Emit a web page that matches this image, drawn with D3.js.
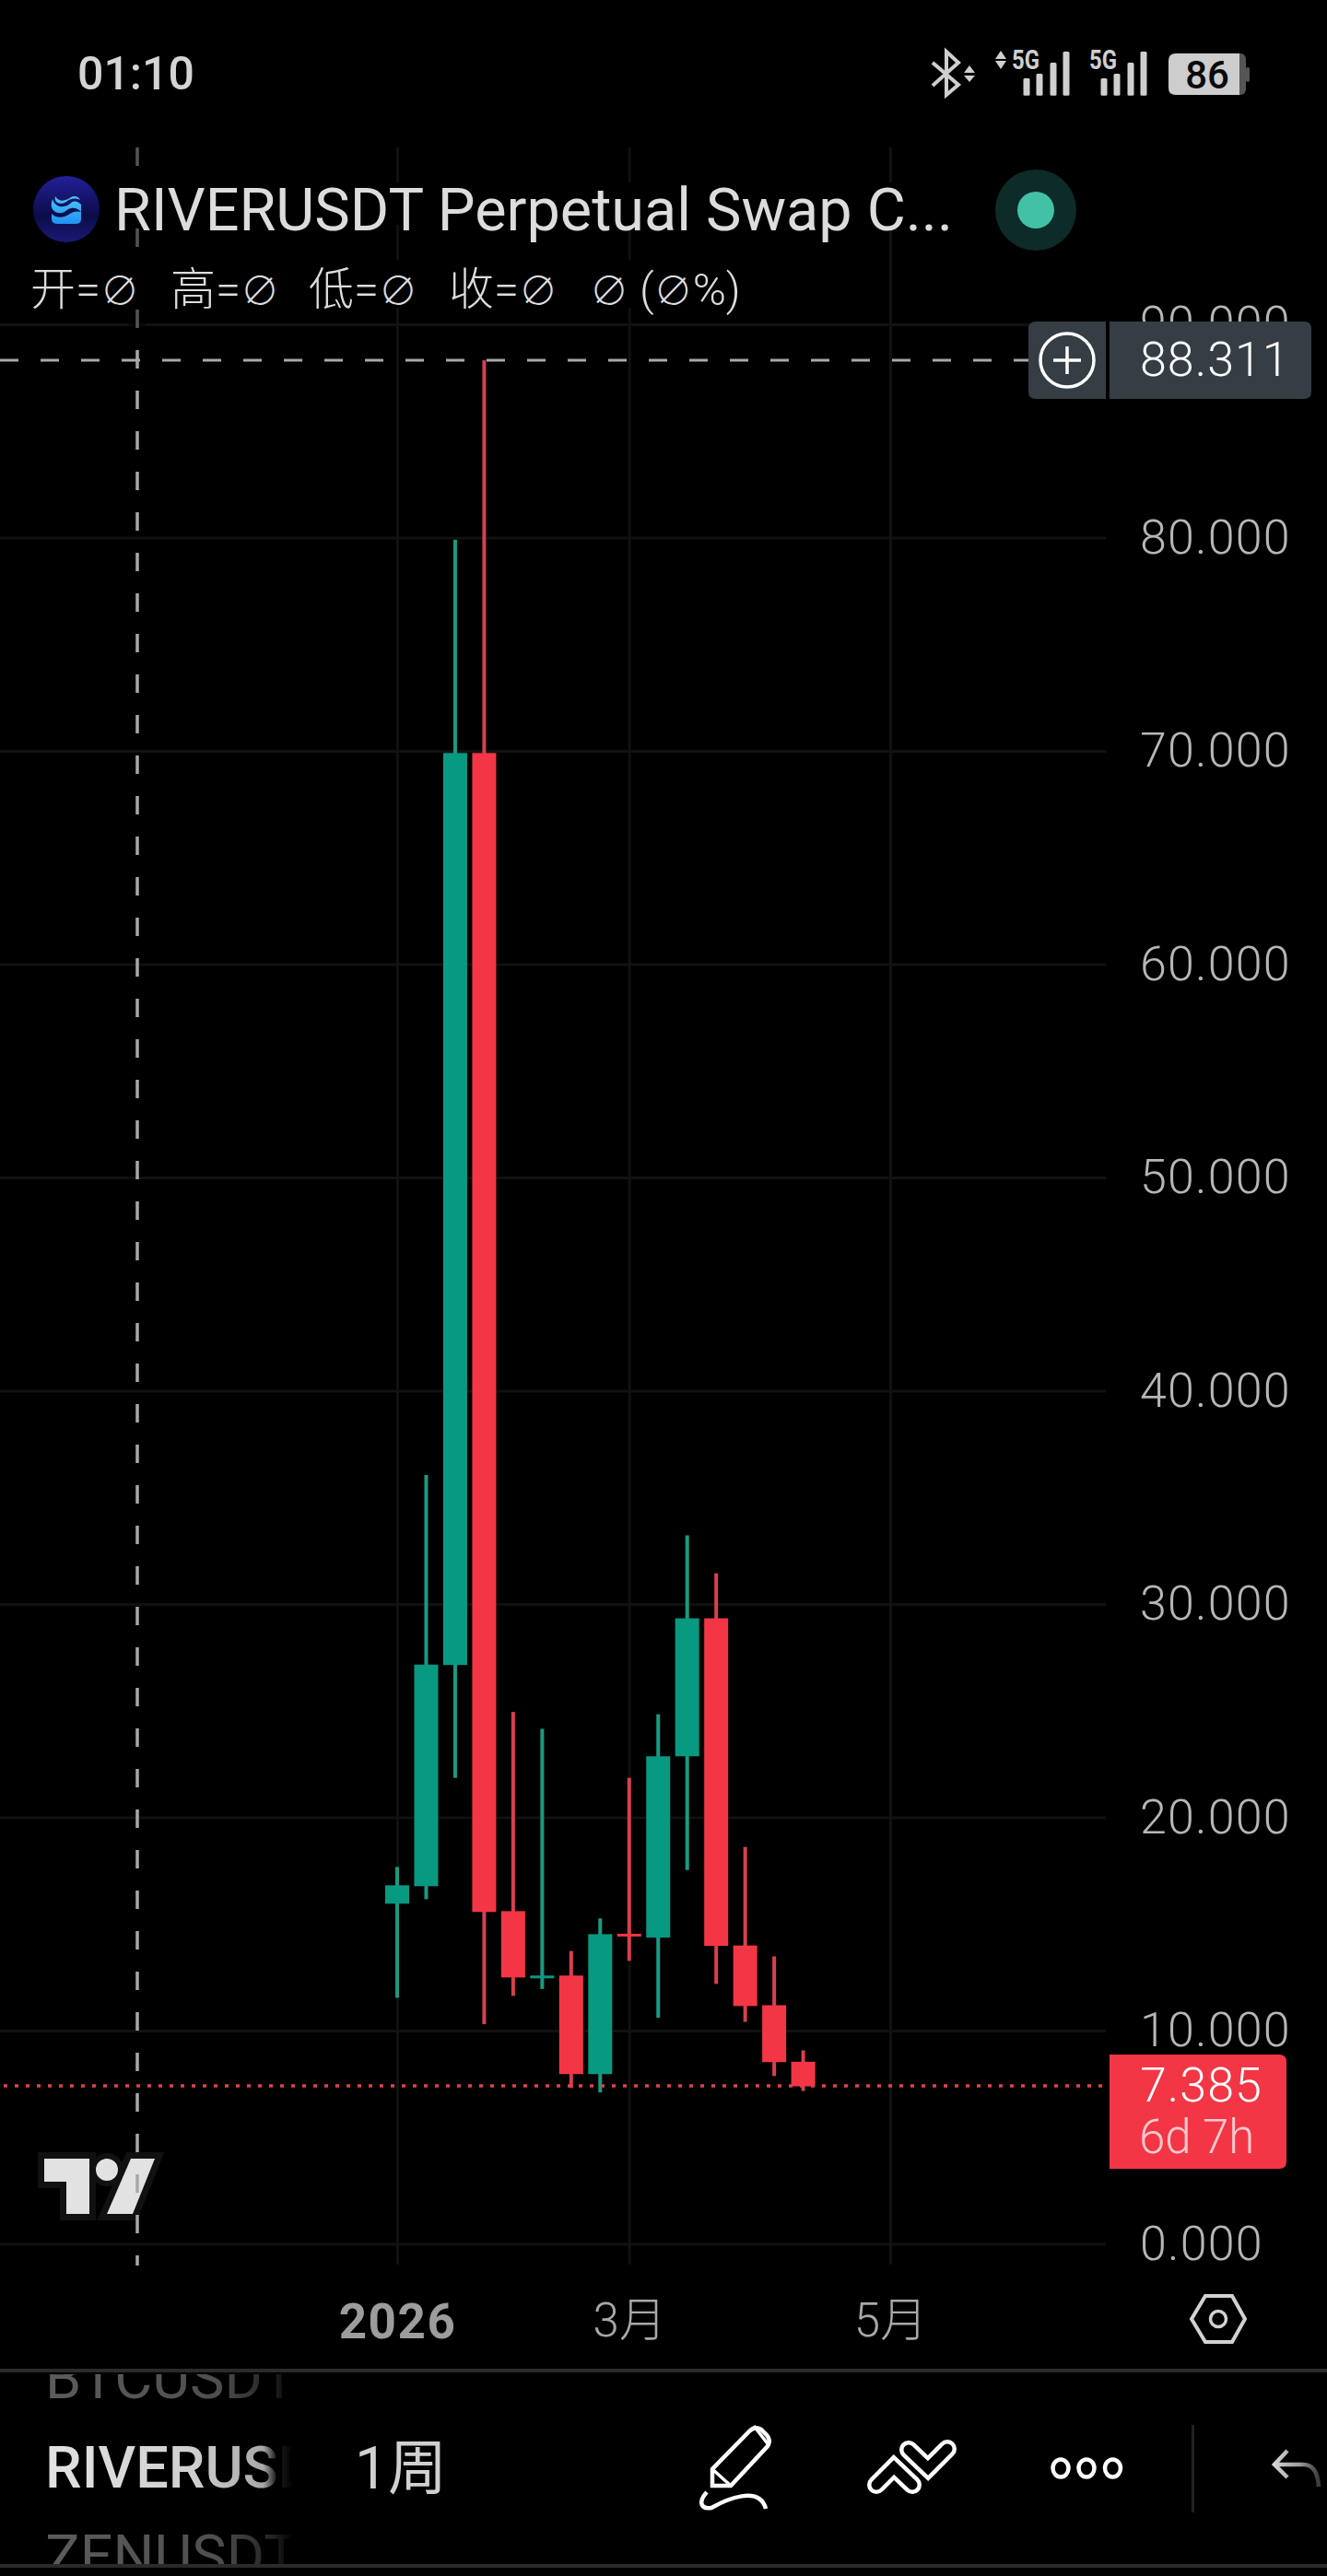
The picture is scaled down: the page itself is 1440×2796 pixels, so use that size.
<!DOCTYPE html>
<html lang="zh">
<head>
<meta charset="utf-8">
<title>RIVERUSDT</title>
<script src="https://cdn.jsdelivr.net/npm/d3@7"></script>
<style>
html,body{margin:0;padding:0;background:#000}
svg{display:block}
text{font-family:Roboto,"Noto Sans CJK SC",sans-serif}
</style>
</head>
<body>
<div id="chart"></div>
<script>
// ---- data ----
const weeks  = ["2026-01-05","2026-01-12","2026-01-19","2026-01-26","2026-02-02","2026-02-09","2026-02-16","2026-02-23","2026-03-02","2026-03-09","2026-03-16","2026-03-23","2026-03-30","2026-04-06","2026-04-13"];
const opens  = [15.95,16.77,27.14,69.90,15.60,12.46,12.58, 7.96,14.54,14.36,22.86,29.33,13.99,11.19, 8.54];
const highs  = [17.67,36.05,79.90,88.311,24.94,24.15,13.73,15.26,21.85,24.83,33.22,31.44,18.61,13.48, 9.07];
const lows   = [11.54,16.16,21.85,10.30,11.63,11.95, 7.31, 7.10,13.27,10.60,17.53,12.19,10.41, 7.87, 7.17];
const closes = [16.81,27.16,69.90,15.56,12.49,12.58, 7.96,14.52,14.46,22.86,29.33,13.97,11.15, 8.52, 7.385];
const priceTicks = [0,10,20,30,40,50,60,70,80,90];
const timeTicks  = ["2026-01-05","2026-03-02","2026-05-04"];
const timeLabels = ["2026","3月","5月"];
const crosshairPrice = 88.311;
const lastPrice = 7.385;
const countdown = "6d 7h";
const legendParts = ["开=∅","高=∅","低=∅","收=∅","∅ (∅%)"];
const symbols = ["BTCUSDT","RIVERUSDT","ZENUSDT"];

const UP="#089981", DOWN="#F23645", UPW="#1a9a80", DOWNW="#d5414f";
const W=1440,H=2796;
const parse=d3.utcParse("%Y-%m-%d");
const x=d3.scaleUtc().domain([parse("2026-01-05"),parse("2026-05-04")]).range([431,966]);
const y=d3.scaleLinear().domain([0,90]).range([2435.5,352]);
const svg=d3.select("#chart").append("svg").attr("width",W).attr("height",H).attr("viewBox",`0 0 ${W} ${H}`);
svg.append("rect").attr("width",W).attr("height",H).attr("fill","#000");
const defs=svg.append("defs");
function lin(id,x1,y1,x2,y2,stops){
  const g=defs.append("linearGradient").attr("id",id).attr("gradientUnits","userSpaceOnUse")
    .attr("x1",x1).attr("y1",y1).attr("x2",x2).attr("y2",y2);
  stops.forEach(s=>g.append("stop").attr("offset",s[0]).attr("stop-color",s[1]));
}
lin("gRiver",50,0,318,0,[[0,"#e2e2e2"],[.6,"#cfcfcf"],[.88,"#a8a8a8"],[.93,"#222"],[1,"#000"]]);
lin("gDim",50,0,318,0,[[0,"#5c5c5c"],[.7,"#4e4e4e"],[.92,"#222"],[1,"#000"]]);
lin("gUndo",1381,0,1431,0,[[0,"#d8d8d8"],[.6,"#9a9a9a"],[1,"#3a3a3a"]]);
lin("gLogo",72,191,72,263,[[0,"#22209a"],[.6,"#0b0c48"],[1,"#1a1a78"]]);
lin("gGlyph",72,212,72,244,[[0,"#4cc9f5"],[1,"#2090f4"]]);
defs.append("clipPath").attr("id","clipSym").append("rect").attr("x",0).attr("y",2577).attr("width",330).attr("height",206);

// ---- grid + axes ----
const gridCol="#111111";
const yAxis=d3.axisRight(y).tickValues(priceTicks).tickFormat(d3.format(".3f")).tickSizeInner(-1200).tickSizeOuter(0).tickPadding(37);
const gy=svg.append("g").attr("transform","translate(1200,0)").call(yAxis);
gy.select(".domain").remove();
gy.selectAll("line").attr("stroke",gridCol).attr("stroke-width",3);
gy.selectAll("text").attr("fill","#b6b6b6").attr("font-size",52).attr("font-weight",300).attr("font-family","Roboto").attr("letter-spacing",1.2);

const labelOf=new Map(timeTicks.map((d,i)=>[+parse(d),timeLabels[i]]));
const xAxis=d3.axisBottom(x).tickValues(timeTicks.map(parse)).tickFormat(d=>labelOf.get(+d)).tickSizeInner(-2298).tickSizeOuter(0).tickPadding(42);
const gx=svg.append("g").attr("transform","translate(0,2458)").call(xAxis);
gx.select(".domain").remove();
gx.selectAll("line").attr("stroke",gridCol).attr("stroke-width",3);
gx.selectAll("text").attr("font-size",51).attr("fill","#a8a8a8").attr("font-family","Roboto,'Noto Sans CJK SC'").attr("font-weight",300);
gx.selectAll("text").filter((d,i)=>i===0).attr("font-weight",700).attr("font-size",53).attr("fill","#9c9c9c").attr("letter-spacing",1.5);

// ---- tradingview mark ----
const tv=svg.append("g");
const tvPaths=["M48,2343H97V2403H72V2368H48Z","M142,2343H168L144,2403H116Z"];
tvPaths.forEach(p=>tv.append("path").attr("d",p).attr("fill","#111").attr("stroke","#111").attr("stroke-width",14).attr("stroke-linejoin","miter"));
tv.append("circle").attr("cx",116).attr("cy",2355).attr("r",18).attr("fill","#111");
tvPaths.forEach(p=>tv.append("path").attr("d",p).attr("fill","#e2e2e2"));
tv.append("circle").attr("cx",116).attr("cy",2355).attr("r",12).attr("fill","#e2e2e2");

// ---- candles ----
const bodyW=26,wickW=4;
const candles=weeks.map((w,i)=>({d:parse(w),o:opens[i],h:highs[i],l:lows[i],c:closes[i]}));
const cg=svg.append("g").selectAll("g").data(candles).join("g");
cg.append("rect").attr("x",d=>x(d.d)-wickW/2).attr("width",wickW)
  .attr("y",d=>y(d.h)).attr("height",d=>y(d.l)-y(d.h))
  .attr("fill",d=>d.c>=d.o?UPW:DOWNW);
cg.append("rect").attr("x",d=>x(d.d)-bodyW/2).attr("width",bodyW)
  .attr("y",d=>y(Math.max(d.o,d.c))).attr("height",d=>Math.max(3,Math.abs(y(d.o)-y(d.c))))
  .attr("fill",d=>d.c>=d.o?UP:DOWN);

// ---- last price line ----
svg.append("line").attr("x1",4).attr("x2",1196).attr("y1",y(lastPrice)-0.5).attr("y2",y(lastPrice)-0.5)
  .attr("stroke","#e0404e").attr("stroke-width",3.5).attr("stroke-dasharray","4 8");

// ---- crosshair ----
const crossX=149;
svg.append("line").attr("x1",crossX).attr("x2",crossX).attr("y1",160).attr("y2",2459)
  .attr("stroke","#a8a8a8").attr("stroke-width",3.5).attr("stroke-dasharray","20 24");
svg.append("line").attr("x1",0).attr("x2",1116).attr("y1",y(crosshairPrice)).attr("y2",y(crosshairPrice))
  .attr("stroke","#a8a8a8").attr("stroke-width",3).attr("stroke-dasharray","20 24");

// ---- header ----
svg.append("rect").attr("x",140).attr("y",150).attr("width",18).attr("height",212).attr("fill","#000").attr("opacity",.5);
svg.append("rect").attr("x",120).attr("y",198).attr("width",930).attr("height",46).attr("fill","#000");
svg.append("rect").attr("x",30).attr("y",282).attr("width",780).attr("height",52).attr("fill","#000");
svg.append("circle").attr("cx",72).attr("cy",227).attr("r",36).attr("fill","url(#gLogo)");
svg.append("path").attr("fill","url(#gGlyph)")
  .attr("d","M56,232 C62,238 70,236 76,232 C80,229 84,229 88,230 V238 Q88,243 82,243 H63 Q56,243 56,238 Z");
svg.append("path").attr("fill","url(#gGlyph)")
  .attr("d","M57,216 C60,226 70,226 76,221 C80,217 84,218 88,222 V230 C82,224 76,225 70,230 C62,234 54,228 56,220 Z M60,213 C64,220 72,218 77,214 C81,212 85,213 87,217 C80,214 76,216 72,219 C67,223 58,221 60,213 Z");
svg.append("text").attr("x",124).attr("y",250).attr("font-family","'Liberation Sans'").attr("font-size",65)
  .attr("textLength",910).attr("lengthAdjust","spacingAndGlyphs").attr("fill","#dcdcdc").text("RIVERUSDT Perpetual Swap C...");
[33,185,335,487,640].forEach((px,i)=>{
  const t=svg.append("text").attr("x",px).attr("y",331).attr("font-size",49)
    .attr("font-family","'Liberation Sans','Noto Sans CJK SC','DejaVu Sans'").attr("font-weight",300).attr("fill","#dcdcdc");
  legendParts[i].split(/(∅)/).filter(s=>s).forEach(s=>{
    const ts=t.append("tspan").text(s);
    if(s==="∅") ts.attr("font-size",42);
  });
});
svg.append("circle").attr("cx",1124).attr("cy",228).attr("r",44).attr("fill","#0d2b28");
svg.append("circle").attr("cx",1124).attr("cy",228).attr("r",20).attr("fill","#43c1a6");

// ---- crosshair price tag ----
svg.append("path").attr("fill","#373d45").attr("d","M1200,349H1124Q1116,349 1116,357V425Q1116,433 1124,433H1200Z");
svg.append("path").attr("fill","#373d45").attr("d","M1204,349H1415Q1423,349 1423,357V425Q1423,433 1415,433H1204Z");
svg.append("circle").attr("cx",1158).attr("cy",391).attr("r",29).attr("fill","none").attr("stroke","#fff").attr("stroke-width",3.5);
svg.append("path").attr("d","M1143,391H1173M1158,376V406").attr("stroke","#fff").attr("stroke-width",3.5);
svg.append("text").attr("x",1237).attr("y",408).attr("font-size",52).attr("font-weight",300).attr("letter-spacing",1).attr("fill","#fff").attr("font-family","Roboto").text(d3.format(".3f")(crosshairPrice));

// ---- last price tag ----
svg.append("path").attr("fill",DOWN).attr("d","M1204,2230H1388Q1396,2230 1396,2238V2346Q1396,2354 1388,2354H1204Z");
svg.append("text").attr("x",1237).attr("y",2281).attr("font-size",52).attr("font-weight",300).attr("letter-spacing",1).attr("fill","#fff").attr("font-family","Roboto").text(d3.format(".3f")(lastPrice));
svg.append("text").attr("x",1236).attr("y",2337).attr("font-size",51).attr("font-weight",300).attr("fill","#ffc9ce").attr("font-family","Roboto").text(countdown);

// ---- settings hexagon ----
svg.append("path").attr("d","M1293,2517L1308,2492H1337L1351,2517L1337,2542H1308Z").attr("fill","none").attr("stroke","#d2d2d2").attr("stroke-width",4);
svg.append("circle").attr("cx",1322).attr("cy",2517).attr("r",8.5).attr("fill","none").attr("stroke","#d2d2d2").attr("stroke-width",3.5);

// ---- status bar ----
svg.append("text").attr("x",84).attr("y",97).attr("font-size",50).attr("font-weight",500).attr("fill","#d4d4d4").text("01:10");
svg.append("path").attr("d","M1012,68L1040,92L1027,103V56L1040,68L1012,93").attr("fill","none").attr("stroke","#cfcfcf").attr("stroke-width",4);
svg.append("path").attr("fill","#cfcfcf").attr("d","M1052,71L1046,79H1058ZM1046,82H1058L1052,89ZM1086,55L1080,64H1092ZM1080,66H1092L1086,75Z");
[[1098,[1114,1128,1143,1157]],[1182,[1198,1212,1227,1241]]].forEach(([tx,bars])=>{
  svg.append("text").attr("x",tx).attr("y",75).attr("font-size",29).attr("font-weight",700).attr("textLength",30).attr("lengthAdjust","spacingAndGlyphs").attr("fill","#cfcfcf").text("5G");
  [85,80,68,56].forEach((t,i)=>svg.append("rect").attr("x",bars[i]-3.5).attr("y",t).attr("width",7).attr("height",103.7-t).attr("rx",1.5).attr("fill","#cfcfcf"));
});
svg.append("rect").attr("x",1338).attr("y",58).attr("width",14).attr("height",45).attr("rx",6).attr("fill","#555");
svg.append("rect").attr("x",1352).attr("y",73).attr("width",4).attr("height",16).attr("rx",2).attr("fill","#555");
svg.append("path").attr("fill","#cdcdcd").attr("d","M1276,58H1345V103H1276Q1268,103 1268,95V66Q1268,58 1276,58Z");
svg.append("text").attr("x",1310).attr("y",96).attr("text-anchor","middle").attr("font-size",42).attr("font-weight",500).attr("fill","#0a0a0a").text("86");

// ---- bottom toolbar ----
svg.append("rect").attr("x",0).attr("y",2571).attr("width",W).attr("height",4).attr("fill","#2b2b2b");
svg.append("rect").attr("x",0).attr("y",2783).attr("width",W).attr("height",4).attr("fill","#2b2b2b");
const sym=svg.append("g").attr("clip-path","url(#clipSym)");
const symY=[2603,2700,2796], symFill=["url(#gDim)","url(#gRiver)","url(#gDim)"], symWeight=[400,500,400];
symbols.forEach((s,i)=>sym.append("text").attr("x",49).attr("y",symY[i]).attr("font-size",63).attr("font-weight",symWeight[i]).attr("fill",symFill[i]).text(s));
svg.append("text").attr("x",385).attr("y",2701).attr("font-size",64).attr("font-family","Roboto,'Noto Sans CJK SC'").attr("font-weight",400).attr("fill","#d0d0d0").text("1周");

const ic=svg.append("g").attr("fill","none").attr("stroke","#fff").attr("stroke-width",4.5);
ic.append("path").attr("d","M773,2698V2680L813,2639Q819,2633 826,2637L832,2643Q837,2649 833,2655L793,2698Z");
ic.append("path").attr("d","M773,2680L793,2698M818,2633L835,2655").attr("stroke-width",3.5);
ic.append("path").attr("d","M767,2705C757,2716 761,2724 772,2722C788,2713 824,2697 831,2723");
const chev=[[[951,2697],[970,2678],[990,2697]],[[986,2659],[1007,2679],[1028,2658]]];
const ln=d3.line();
chev.forEach(c=>{
  svg.append("path").attr("d",ln(c)).attr("fill","none").attr("stroke","#fff").attr("stroke-width",20).attr("stroke-linecap","round").attr("stroke-linejoin","miter");
  svg.append("path").attr("d",ln(c)).attr("fill","none").attr("stroke","#000").attr("stroke-width",11).attr("stroke-linecap","round").attr("stroke-linejoin","miter");
});
[1151,1179,1207.5].forEach(cx=>ic.append("ellipse").attr("cx",cx).attr("cy",2679).attr("rx",8.5).attr("ry",9.5));
svg.append("rect").attr("x",1293).attr("y",2632).attr("width",3).attr("height",95).attr("fill","#222");
svg.append("path").attr("d","M1397,2660L1383,2675L1397,2689M1383,2675H1414Q1430,2675 1431,2699").attr("fill","none").attr("stroke","url(#gUndo)").attr("stroke-width",4.5);
</script>
</body>
</html>
